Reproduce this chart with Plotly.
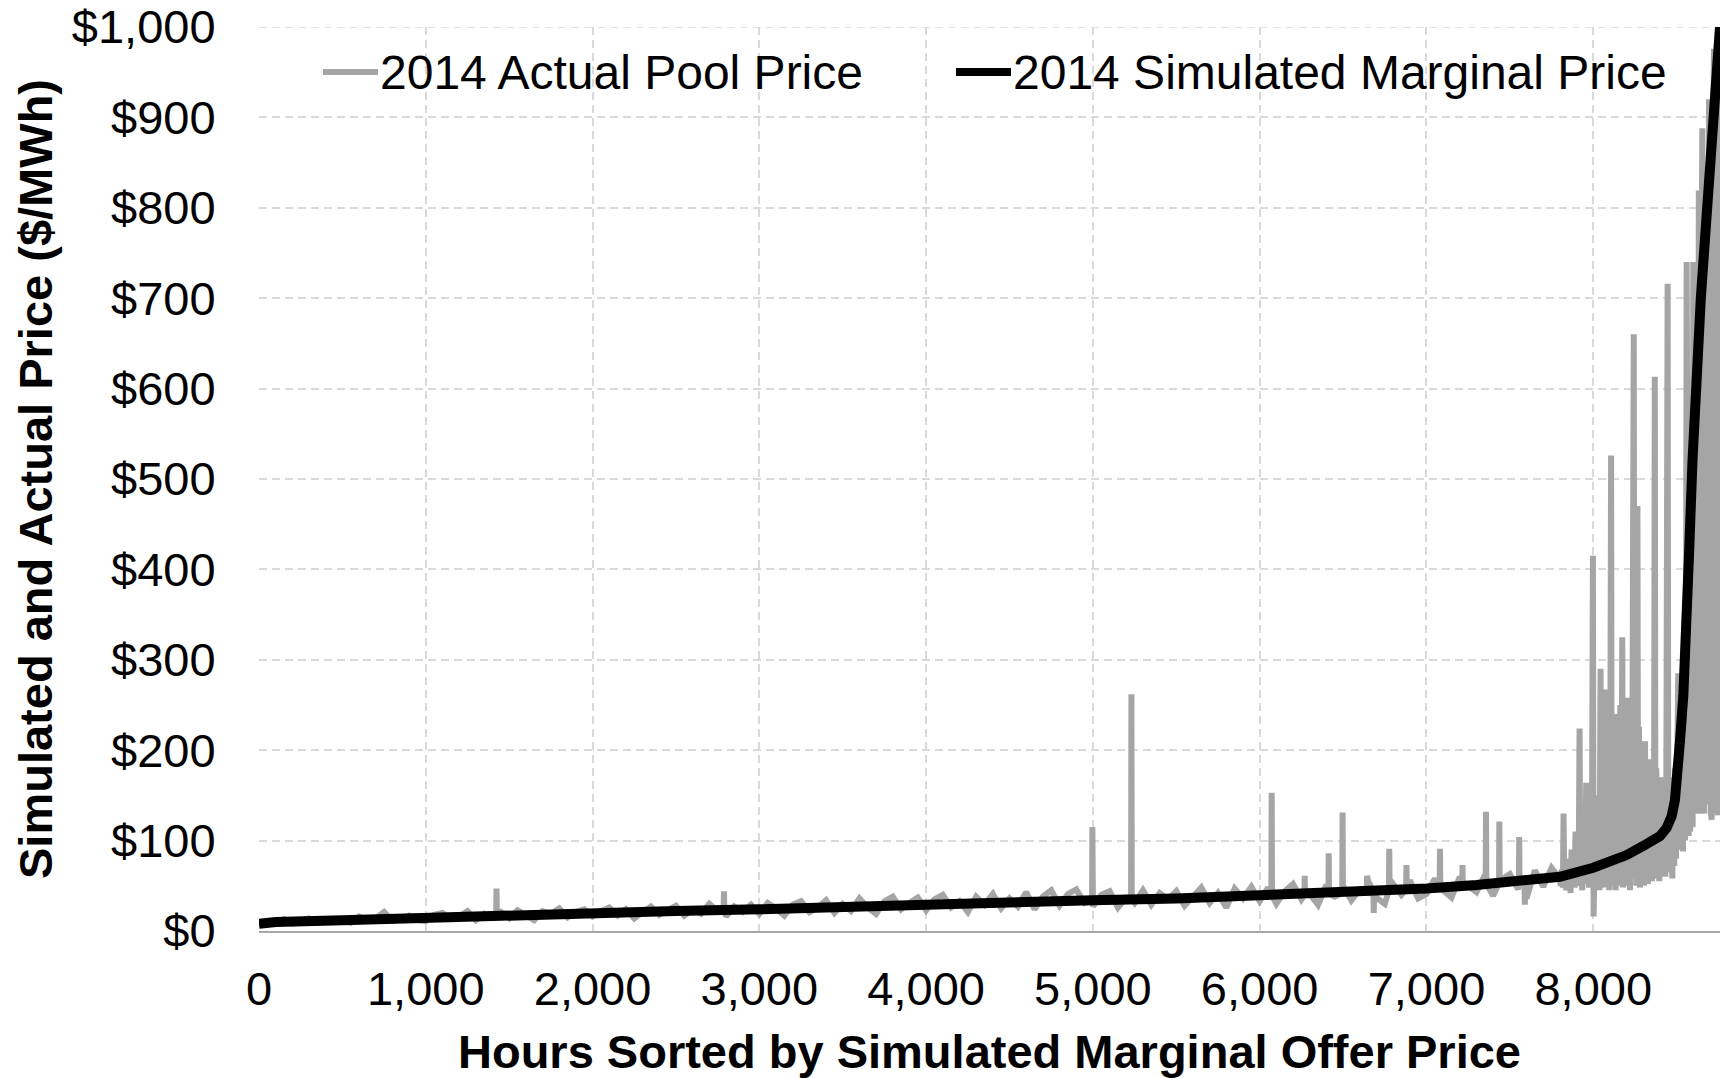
import plotly.graph_objects as go

# ---------------- data ----------------
# Simulated marginal price (sorted curve), knots
sim_hours = [0, 100, 500, 1000, 1500, 2000, 2500, 3000, 3500, 4000, 4500, 5000, 5500,
             6000, 6500, 7000, 7300, 7600, 7800, 8000, 8100, 8200, 8300, 8400, 8440,
             8470, 8490, 8505, 8520, 8540, 8560, 8575, 8595, 8610, 8630, 8645, 8685,
             8720, 8745, 8760]
sim_price = [8, 10, 12, 15, 18, 20, 22, 24, 27, 30, 32, 34, 36,
             39, 42, 47, 51, 55, 60, 70, 77, 84, 94, 105, 114,
             127, 145, 170, 210, 260, 330, 420, 520, 580, 650, 700, 805,
             910, 960, 1000]

# Actual pool price, low-price part sampled every 50 h from 0 to 7800
pool_low_start, pool_low_step = 0, 50
pool_low_price = [
    7, 11, 10, 13, 8, 12, 14, 9, 12, 10,
    13, 9, 16, 12, 14, 21, 11, 13, 17, 12,
    11, 18, 20, 13, 16, 22, 12, 19, 15, 21,
    14, 23, 17, 12, 22, 19, 25, 15, 21, 24,
    16, 22, 26, 17, 24, 14, 21, 27, 18, 23,
    28, 17, 24, 19, 30, 22, 16, 27, 21, 29,
    19, 31, 25, 17, 29, 33, 21, 26, 34, 20,
    30, 22, 36, 26, 19, 33, 38, 24, 31, 37,
    23, 35, 40, 26, 33, 21, 38, 29, 41, 25,
    36, 27, 43, 24, 38, 45, 28, 41, 46, 31,
    27, 40, 44, 26, 37, 31, 45, 29, 42, 35,
    44, 28, 38, 48, 31, 42, 26, 47, 36, 49,
    33, 48, 30, 44, 52, 35, 41, 29, 51, 38,
    50, 34, 46, 55, 37, 30, 52, 40, 56, 36,
    41, 58, 45, 37, 60, 50, 43, 62, 39, 57,
    63, 46, 36, 67, 49, 70, 58,
]

# Isolated single-hour spikes / dips in the low part
spike_hours = [1424, 2788, 4997, 5231, 6072, 6270, 6414, 6497, 6644, 6684, 6777, 6880,
               7081, 7216, 7357, 7437, 7556, 7590]
spike_price = [47, 44, 115, 262, 153, 61, 86, 131, 61, 20, 91, 73,
               91, 73, 132, 121, 104, 29]
spike_base = [18, 23, 34, 35, 39, 40, 41, 42, 43, 44, 45, 46,
              47, 49, 52, 53, 54, 55]

# Dense, volatile tail of the actual pool price (7805 h to 8760 h)
tail_hours = [
    7805, 7812, 7818, 7822, 7826, 7832, 7838, 7845, 7851, 7858, 7864, 7870, 7876, 7882,
    7888, 7894, 7900, 7906, 7912, 7918, 7922, 7928, 7934, 7940, 7946, 7952, 7958, 7962,
    7968, 7974, 7980, 7986, 7992, 7998, 8002, 8008, 8014, 8020, 8026, 8032, 8038, 8044,
    8048, 8054, 8060, 8066, 8072, 8080, 8084, 8090, 8096, 8102, 8107, 8111, 8116, 8122,
    8128, 8134, 8140, 8144, 8150, 8156, 8162, 8168, 8174, 8178, 8184, 8190, 8196, 8204,
    8208, 8214, 8220, 8226, 8232, 8238, 8243, 8247, 8252, 8258, 8265, 8269, 8274, 8280,
    8286, 8292, 8298, 8304, 8310, 8316, 8322, 8328, 8334, 8340, 8346, 8352, 8358, 8364,
    8369, 8373, 8378, 8384, 8390, 8396, 8402, 8408, 8414, 8420, 8426, 8432, 8438, 8446,
    8450, 8456, 8462, 8468, 8474, 8480, 8486, 8490, 8496, 8502, 8510, 8514, 8520, 8526,
    8532, 8538, 8544, 8550, 8556, 8560, 8564, 8568, 8572, 8576, 8580, 8584, 8588, 8592,
    8596, 8600, 8604, 8608, 8612, 8616, 8620, 8624, 8628, 8633, 8637, 8641, 8645, 8649,
    8654, 8658, 8662, 8666, 8670, 8674, 8678, 8682, 8686, 8690, 8694, 8698, 8702, 8706,
    8710, 8714, 8718, 8722, 8724, 8728, 8732, 8736, 8740, 8744, 8748, 8752, 8756, 8760,
]
tail_price = [
    50, 68, 48, 130, 52, 72, 45, 80, 50, 65, 42, 90, 55, 75,
    48, 110, 55, 85, 50, 224, 58, 95, 45, 120, 52, 80, 164, 55,
    100, 48, 130, 60, 90, 415, 16, 75, 50, 150, 55, 110, 45, 290,
    60, 180, 50, 140, 48, 267, 55, 200, 45, 160, 526, 50, 210, 60,
    240, 45, 230, 60, 190, 50, 250, 55, 325, 48, 220, 60, 180, 258,
    50, 230, 45, 200, 58, 250, 660, 60, 230, 50, 470, 55, 226, 48,
    200, 62, 180, 50, 210, 58, 170, 52, 190, 65, 160, 55, 150, 60,
    613, 58, 180, 65, 140, 55, 170, 62, 130, 70, 160, 60, 140, 716,
    75, 150, 65, 170, 58, 140, 72, 180, 80, 160, 285, 90, 240, 95,
    270, 88, 230, 100, 260, 740, 120, 300, 105, 380, 110, 350, 125, 420,
    115, 740, 130, 600, 150, 650, 140, 700, 135, 819, 130, 650, 160, 720,
    888, 145, 750, 130, 800, 140, 780, 170, 650, 150, 920, 140, 850, 130,
    123, 900, 160, 940, 976, 130, 920, 150, 180, 950, 128, 970, 990, 1000,
]

# Axis ticks
x_ticks = [0, 1000, 2000, 3000, 4000, 5000, 6000, 7000, 8000]
x_tick_text = ["0", "1,000", "2,000", "3,000", "4,000", "5,000", "6,000", "7,000", "8,000"]
y_ticks = [0, 100, 200, 300, 400, 500, 600, 700, 800, 900, 1000]
y_tick_text = ["$0", "$100", "$200", "$300", "$400", "$500", "$600", "$700", "$800",
               "$900", "$1,000"]

# ---------------- assemble the actual-price series ----------------
points = []
for i, p in enumerate(pool_low_price):
    points.append((pool_low_start + i * pool_low_step, p))
for h, p, b in zip(spike_hours, spike_price, spike_base):
    points.extend([(h - 2, b), (h, p), (h + 2, b)])
points.extend(zip(tail_hours, tail_price))
points.sort(key=lambda t: t[0])
pool_x = [t[0] for t in points]
pool_y = [t[1] for t in points]

FONT = "Arial, Liberation Sans, sans-serif"
GRAY = "#A5A5A5"
GRID = "#D9D9D9"

fig = go.Figure()
fig.add_trace(go.Scatter(
    x=pool_x, y=pool_y, mode="lines", name="2014 Actual Pool Price",
    line=dict(color=GRAY, width=6), showlegend=False,
))
fig.add_trace(go.Scatter(
    x=sim_hours, y=sim_price, mode="lines", name="2014 Simulated Marginal Price",
    line=dict(color="#000000", width=10), showlegend=False,
))

# Page body margin is removed (post_script), so the figure fills the window:
# the plot area spans x 259..1720 and y 27..931.
W, H = 1727, 1078
ML, MR, MT, MB = 259, 7, 27, 147
pw, ph = W - ML - MR, H - MT - MB


def px(screen_x):
    return (screen_x - ML) / pw


def py(screen_y):
    return (H - MB - screen_y) / ph


# legend (custom, inside plot at top)
shapes = [
    dict(type="rect", xref="paper", yref="paper", layer="between",
         x0=px(300), x1=px(1690), y0=py(100), y1=py(44),
         fillcolor="white", line=dict(width=0)),
    dict(type="line", xref="paper", yref="paper", x0=px(323), x1=px(378),
         y0=py(72), y1=py(72), line=dict(color=GRAY, width=6)),
    dict(type="line", xref="paper", yref="paper", x0=px(956), x1=px(1011),
         y0=py(72), y1=py(72), line=dict(color="#000000", width=8)),
    # top grid line at $1,000
    dict(type="line", xref="paper", yref="y", layer="below",
         x0=0, x1=1, y0=1000, y1=1000, line=dict(color=GRID, width=1.5, dash="8px,5px")),
]
annotations = [
    dict(text="2014 Actual Pool Price", xref="paper", yref="paper",
         x=px(378), y=py(72), xanchor="left", yanchor="middle", showarrow=False,
         font=dict(family=FONT, size=48, color="#000000")),
    dict(text="2014 Simulated Marginal Price", xref="paper", yref="paper",
         x=px(1011), y=py(72), xanchor="left", yanchor="middle", showarrow=False,
         font=dict(family=FONT, size=48, color="#000000")),
    dict(text="<b>Hours Sorted by Simulated Marginal Offer Price</b>", xref="paper",
         yref="paper", x=0.5, y=py(1051), xanchor="center", yanchor="middle",
         showarrow=False, font=dict(family=FONT, size=47, color="#000000")),
    dict(text="<b>Simulated and Actual Price ($/MWh)</b>", xref="paper",
         yref="paper", x=px(35), y=0.5, xanchor="center", yanchor="middle",
         textangle=-90, showarrow=False,
         font=dict(family=FONT, size=47, color="#000000")),
]

fig.update_layout(
    width=W, height=H,
    margin=dict(l=ML, r=MR, t=MT, b=MB, pad=0, autoexpand=False),
    paper_bgcolor="white", plot_bgcolor="white",
    font=dict(family=FONT, size=47, color="#000000"),
    shapes=shapes, annotations=annotations,
    showlegend=False,
)
fig.update_xaxes(
    range=[0, 8760], tickvals=x_ticks, ticktext=x_tick_text, automargin=False,
    showgrid=True, gridcolor=GRID, gridwidth=1.5, griddash="8px,5px",
    zeroline=False, showline=True, linecolor="#A6A6A6", linewidth=2,
    ticks="outside", ticklen=16, tickcolor="rgba(0,0,0,0)",
    ticklabeloverflow="allow",
    tickfont=dict(family=FONT, size=47, color="#000000"),
)
fig.update_yaxes(
    range=[0, 1000], tickvals=y_ticks, ticktext=y_tick_text, automargin=False,
    showgrid=True, gridcolor=GRID, gridwidth=1.5, griddash="8px,5px",
    zeroline=False, showline=False,
    ticks="outside", ticklen=33, tickcolor="rgba(0,0,0,0)",
    ticklabeloverflow="allow",
    tickfont=dict(family=FONT, size=47, color="#000000"),
)

fig.write_html("out.html", config={"displayModeBar": False},
               post_script="document.body.style.margin='0';")
